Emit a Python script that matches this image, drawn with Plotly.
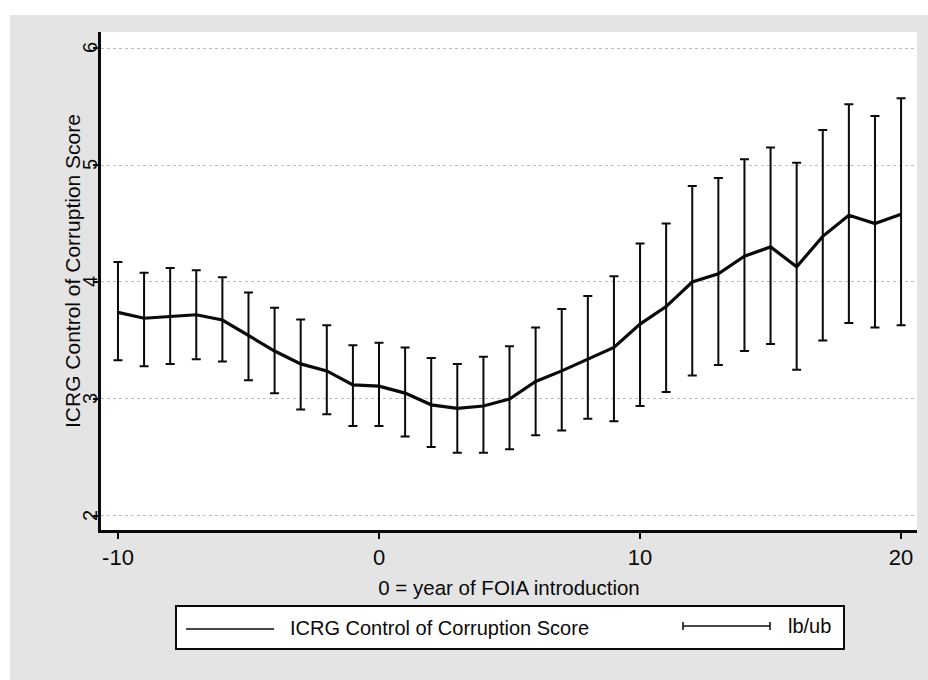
import plotly.graph_objects as go

# ---- data ----
years = list(range(-10, 21))
score = [3.74, 3.69, 3.705, 3.72, 3.675, 3.54, 3.41, 3.30, 3.24, 3.12, 3.11,
         3.05, 2.95, 2.92, 2.94, 3.00, 3.15, 3.24, 3.34, 3.44, 3.64,
         3.79, 4.00, 4.07, 4.22, 4.30, 4.13, 4.39, 4.57, 4.50, 4.58]
ub = [4.17, 4.08, 4.12, 4.10, 4.04, 3.91, 3.78, 3.68, 3.63, 3.46, 3.48,
      3.44, 3.35, 3.30, 3.36, 3.45, 3.61, 3.77, 3.88, 4.05, 4.33,
      4.50, 4.82, 4.89, 5.05, 5.15, 5.02, 5.30, 5.52, 5.42, 5.57]
lb = [3.33, 3.28, 3.30, 3.34, 3.32, 3.16, 3.05, 2.91, 2.87, 2.77, 2.77,
      2.68, 2.59, 2.54, 2.54, 2.57, 2.69, 2.73, 2.83, 2.81, 2.94,
      3.06, 3.20, 3.29, 3.41, 3.47, 3.25, 3.50, 3.65, 3.61, 3.63]
x_ticks = [-10, 0, 10, 20]
x_ticktext = ["-10", "0", "10", "20"]
y_ticks = [2, 3, 4, 5, 6]
y_ticktext = ["2", "3", "4", "5", "6"]
series_name = "ICRG Control of Corruption Score"
ci_name = "lb/ub"
x_title = "0 = year of FOIA introduction"

FONT = "Liberation Sans, Arial, sans-serif"
INK = "#0a0a0a"

err_plus = [u - m for u, m in zip(ub, score)]
err_minus = [m - l for m, l in zip(score, lb)]

fig = go.Figure()
# error bars (lb/ub)
fig.add_trace(go.Scatter(
    x=years, y=score, mode="markers", name=ci_name, showlegend=False,
    marker=dict(size=1, color="rgba(0,0,0,0)"),
    error_y=dict(type="data", symmetric=False, array=err_plus, arrayminus=err_minus,
                 color=INK, thickness=2, width=4.5),
))
# main line
fig.add_trace(go.Scatter(
    x=years, y=score, mode="lines", name=series_name, showlegend=False,
    line=dict(color=INK, width=3.2),
))

# plot geometry (px): left 101, right 917, top 32, bottom 530
L, R, T, B = 101, 917, 32, 530
W, H = R - L, B - T

def px(xp):
    return (xp - L) / W

def py(yp):
    return (B - yp) / H

shapes = [
    # white scan strips
    dict(type="rect", xref="paper", yref="paper", x0=px(0), x1=px(928), y0=py(15), y1=py(0),
         fillcolor="white", line=dict(width=0), layer="below"),
    dict(type="rect", xref="paper", yref="paper", x0=px(0), x1=px(10), y0=py(680), y1=py(0),
         fillcolor="white", line=dict(width=0), layer="below"),
    # legend box
    dict(type="rect", xref="paper", yref="paper", x0=px(176), x1=px(844), y0=py(649), y1=py(606),
         fillcolor="white", line=dict(color=INK, width=2)),
    # legend line sample
    dict(type="line", xref="paper", yref="paper", x0=px(186), x1=px(274), y0=py(629), y1=py(629),
         line=dict(color=INK, width=1.5)),
    # legend errorbar sample
    dict(type="line", xref="paper", yref="paper", x0=px(683), x1=px(770), y0=py(626), y1=py(626),
         line=dict(color=INK, width=1.5)),
    dict(type="line", xref="paper", yref="paper", x0=px(683), x1=px(683), y0=py(622), y1=py(630),
         line=dict(color=INK, width=1.5)),
    dict(type="line", xref="paper", yref="paper", x0=px(770), x1=px(770), y0=py(622), y1=py(630),
         line=dict(color=INK, width=1.5)),
]

annotations = [
    dict(xref="paper", yref="paper", x=px(288), y=py(628), text=series_name, showarrow=False,
         xanchor="left", yanchor="middle", font=dict(family=FONT, size=20, color=INK)),
    dict(xref="paper", yref="paper", x=px(786), y=py(626), text=ci_name, showarrow=False,
         xanchor="left", yanchor="middle", font=dict(family=FONT, size=20, color=INK)),
    # y-axis title
    dict(xref="paper", yref="paper", x=px(72), y=py(271), text=series_name, showarrow=False,
         textangle=-90, xanchor="center", yanchor="middle",
         font=dict(family=FONT, size=21, color=INK)),
]
# rotated y tick labels sitting against the axis, as in the reference
for v, t in zip(y_ticks, y_ticktext):
    annotations.append(dict(
        xref="paper", yref="y", x=px(90), y=v, text=t, showarrow=False,
        textangle=-90, xanchor="center", yanchor="middle",
        font=dict(family=FONT, size=20, color=INK)))

fig.update_layout(
    width=928, height=680,
    margin=dict(l=L, r=928 - R, t=T, b=680 - B, pad=0),
    paper_bgcolor="#e4e4e4",
    plot_bgcolor="white",
    font=dict(family=FONT, color=INK),
    shapes=shapes,
    annotations=annotations,
    showlegend=False,
)
fig.update_xaxes(
    range=[-10.65, 20.61], tickvals=x_ticks, ticktext=x_ticktext, ticks="outside",
    ticklen=6, tickwidth=2, tickcolor=INK, showline=True, linecolor=INK, linewidth=2.5,
    showgrid=False, zeroline=False, automargin=False,
    tickfont=dict(family=FONT, size=22, color=INK),
    title=dict(text=x_title, font=dict(family=FONT, size=20.5, color=INK), standoff=12),
)
fig.update_yaxes(
    range=[1.88, 6.137], tickvals=y_ticks, ticks="outside", showticklabels=False,
    ticklen=5, tickwidth=2, tickcolor=INK, showline=True, linecolor=INK, linewidth=2.5,
    showgrid=True, gridcolor="#bcbcbc", griddash="dot", gridwidth=1,
    zeroline=False, automargin=False,
)

fig.write_html("out.html")
